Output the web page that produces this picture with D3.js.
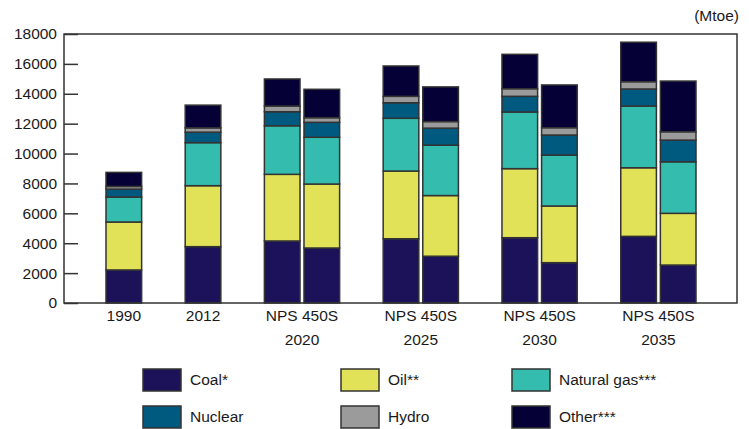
<!DOCTYPE html>
<html>
<head>
<meta charset="utf-8">
<script src="https://cdn.jsdelivr.net/npm/d3@7"></script>
<style>
  body { margin: 0; background: #fff; }
  text { font-family: "Liberation Sans", Arial, sans-serif; fill: #1a1a1a; }
</style>
</head>
<body>
<div id="chart"></div>
<script>

// bars, left to right
const categories = ["1990", "2012", "2020 NPS", "2020 450S", "2025 NPS", "2025 450S",
    "2030 NPS", "2030 450S", "2035 NPS", "2035 450S"];

// axis groups and which bars sit in them
const groupLabels = [["1990"], ["2012"], ["NPS 450S", "2020"], ["NPS 450S", "2025"],
    ["NPS 450S", "2030"], ["NPS 450S", "2035"]];
const groupBars = [["1990"], ["2012"], ["2020 NPS", "2020 450S"], ["2025 NPS", "2025 450S"],
    ["2030 NPS", "2030 450S"], ["2035 NPS", "2035 450S"]];

// Mtoe
const coal    = [2210, 3770, 4150, 3680, 4300, 3130, 4370, 2700, 4460, 2540];
const oil     = [3210, 4080, 4460, 4280, 4530, 4060, 4620, 3790, 4590, 3460];
const gas     = [1670, 2880, 3250, 3130, 3530, 3370, 3790, 3410, 4130, 3450];
const nuclear = [ 530,  700,  940, 1000, 1040, 1140, 1050, 1340, 1140, 1450];
const hydro   = [ 180,  290,  380,  310,  430,  440,  510,  490,  490,  560];
const other   = [ 940, 1520, 1810, 1900, 2030, 2320, 2300, 2860, 2640, 3390];

const seriesNames = ["Coal*", "Oil**", "Natural gas***", "Nuclear", "Hydro", "Other***"];
const seriesKeys = ["coal", "oil", "gas", "nuclear", "hydro", "other"];
const colors = ["#1c125a", "#e1e257", "#34bcae", "#005a80", "#9b9b9b", "#050035"];

const yTicks = [0, 2000, 4000, 6000, 8000, 10000, 12000, 14000, 16000, 18000];


class StackChart {

    constructor(parentElement) {
        this.parentElement = parentElement;
        this.initVis();
    }

    initVis() {
        let vis = this;

        vis.W = 749;
        vis.H = 429;
        vis.plot = {left: 64, right: 737, top: 34, bottom: 303};

        vis.svg = d3.select("#" + vis.parentElement).append("svg")
            .attr("width", vis.W)
            .attr("height", vis.H);

        // one slot per bar, with an empty slot between groups
        let domain = [];
        groupBars.forEach((g, i) => {
            if (i > 0) domain.push("gap" + i);
            g.forEach(b => domain.push(b));
        });

        vis.x = d3.scaleBand()
            .domain(domain)
            .range([106, 696])
            .paddingInner(0.1);

        vis.y = d3.scaleLinear()
            .domain([0, 18000])
            .range([vis.plot.bottom, vis.plot.top]);

        vis.wrangleData();
    }

    wrangleData() {
        let vis = this;

        vis.table = categories.map((c, i) => ({
            cat: c,
            coal: coal[i],
            oil: oil[i],
            gas: gas[i],
            nuclear: nuclear[i],
            hydro: hydro[i],
            other: other[i]
        }));

        vis.stacked = d3.stack().keys(seriesKeys)(vis.table);

        vis.updateVis();
    }

    updateVis() {
        let vis = this;

        // bars
        vis.svg.append("g")
            .selectAll("g")
            .data(vis.stacked)
            .enter()
            .append("g")
            .attr("fill", (d, i) => colors[i])
            .selectAll("rect")
            .data(d => d)
            .enter()
            .append("rect")
            .attr("x", d => vis.x(d.data.cat))
            .attr("width", vis.x.bandwidth())
            .attr("y", d => vis.y(d[1]))
            .attr("height", d => vis.y(d[0]) - vis.y(d[1]))
            .attr("stroke", "#333")
            .attr("stroke-width", 1.5);

        // y axis, ticks pointing inward
        let yAxis = d3.axisLeft(vis.y)
            .tickValues(yTicks)
            .tickFormat(d3.format("d"))
            .tickSizeInner(-14)
            .tickSizeOuter(0)
            .tickPadding(7);

        let yg = vis.svg.append("g")
            .attr("transform", "translate(" + vis.plot.left + ",0)")
            .call(yAxis);
        yg.select(".domain").remove();
        yg.selectAll("line").attr("stroke", "#333").attr("stroke-width", 1.5);
        yg.selectAll("text")
            .style("font-size", "15.5px")
            .style("font-family", "'Liberation Sans', Arial, sans-serif")
            .attr("fill", "#1a1a1a");

        // frame
        vis.svg.append("rect")
            .attr("x", vis.plot.left)
            .attr("y", vis.plot.top)
            .attr("width", vis.plot.right - vis.plot.left)
            .attr("height", vis.plot.bottom - vis.plot.top)
            .attr("fill", "none")
            .attr("stroke", "#333")
            .attr("stroke-width", 1.5);

        // x labels, centred under each group
        let lab = vis.svg.append("g")
            .selectAll("text")
            .data(groupLabels)
            .enter()
            .append("text")
            .attr("text-anchor", "middle")
            .style("font-size", "15.5px")
            .attr("transform", (d, i) => {
                let bars = groupBars[i];
                let x0 = vis.x(bars[0]);
                let x1 = vis.x(bars[bars.length - 1]) + vis.x.bandwidth();
                return "translate(" + ((x0 + x1) / 2) + ",321)";
            });

        lab.selectAll("tspan")
            .data(d => d)
            .enter()
            .append("tspan")
            .attr("x", 0)
            .attr("y", (d, i) => i * 24)
            .text(d => d);

        // unit
        vis.svg.append("text")
            .attr("x", 739)
            .attr("y", 21)
            .attr("text-anchor", "end")
            .style("font-size", "15.5px")
            .text("(Mtoe)");

        // legend
        let colX = [143, 341, 512];
        let rowY = [369, 406];

        let leg = vis.svg.append("g")
            .selectAll("g")
            .data(seriesNames)
            .enter()
            .append("g")
            .attr("transform", (d, i) => "translate(" + colX[i % 3] + "," + rowY[Math.floor(i / 3)] + ")");

        leg.append("rect")
            .attr("width", 38)
            .attr("height", 22)
            .attr("fill", (d, i) => colors[i])
            .attr("stroke", "#333")
            .attr("stroke-width", 1.5);

        leg.append("text")
            .attr("x", 47)
            .attr("y", 15.5)
            .style("font-size", "15.5px")
            .text(d => d);
    }
}

new StackChart("chart");

</script>
</body>
</html>
